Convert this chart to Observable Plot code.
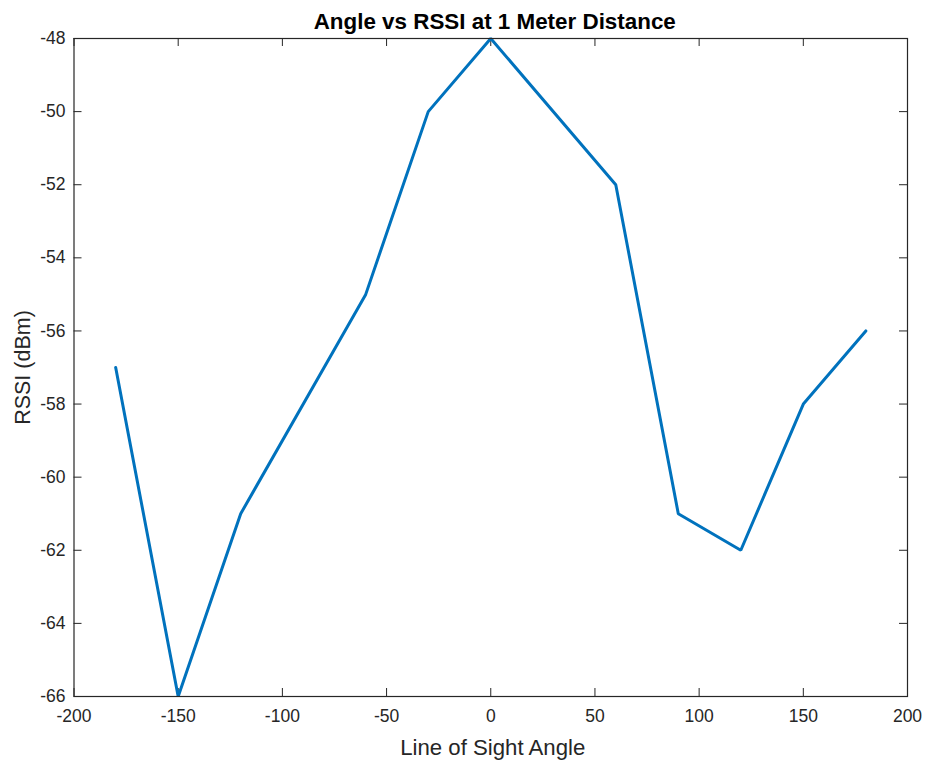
<!DOCTYPE html>
<html>
<head>
<meta charset="utf-8">
<script src="https://cdn.jsdelivr.net/npm/d3@7"></script>
<script src="https://cdn.jsdelivr.net/npm/@observablehq/plot@0.6"></script>
<style>
  html, body { margin: 0; padding: 0; background: #ffffff; }
  #chart svg { display: block; }
</style>
</head>
<body>
<div id="chart"></div>
<script>
// Data
const angles = [-180, -150, -120, -60, -30, 0, 60, 90, 120, 150, 180];
const rssi = [-57, -66, -61, -55, -50, -48, -52, -61, -62, -58, -56];
const xTicks = [-200, -150, -100, -50, 0, 50, 100, 150, 200];
const yTicks = [-66, -64, -62, -60, -58, -56, -54, -52, -50, -48];
const titleText = "Angle vs RSSI at 1 Meter Distance";
const xLabel = "Line of Sight Angle";
const yLabel = "RSSI (dBm)";

const data = angles.map((a, i) => ({angle: a, rssi: rssi[i]}));

const W = 927, H = 763;
const mL = 73.5, mR = 20, mT = 38, mB = 67;
const frameW = W - mL - mR, frameH = H - mT - mB;
const tickLen = 8;
const axisColor = "#262626";
const font = "'Liberation Sans', Arial, Helvetica, sans-serif";
const fmt = d => String(d);

const chart = Plot.plot({
  width: W,
  height: H,
  marginLeft: mL,
  marginRight: mR,
  marginTop: mT,
  marginBottom: mB,
  style: {fontFamily: font, fontSize: "17.5px", color: axisColor, background: "#ffffff"},
  x: {domain: [-200, 200], nice: false},
  y: {domain: [-66, -48], nice: false},
  marks: [
    // inward ticks on all four sides
    Plot.tickX(xTicks, {x: d => d, insetTop: frameH - tickLen, stroke: axisColor, strokeWidth: 1}),
    Plot.tickX(xTicks, {x: d => d, insetBottom: frameH - tickLen, stroke: axisColor, strokeWidth: 1}),
    Plot.tickY(yTicks, {y: d => d, insetRight: frameW - tickLen, stroke: axisColor, strokeWidth: 1}),
    Plot.tickY(yTicks, {y: d => d, insetLeft: frameW - tickLen, stroke: axisColor, strokeWidth: 1}),
    Plot.line(data, {x: "angle", y: "rssi", stroke: "#0072BD", strokeWidth: 3, strokeLinejoin: "miter"}),
    Plot.frame({stroke: axisColor, strokeWidth: 1.2}),
    Plot.axisX({ticks: xTicks, tickSize: 0, tickPadding: 13, tickFormat: fmt, label: null, fill: axisColor}),
    Plot.axisY({ticks: yTicks, tickSize: 0, tickPadding: 8.5, tickFormat: fmt, label: null, fill: axisColor}),
    Plot.text([titleText], {frameAnchor: "top", dy: -10, lineAnchor: "bottom", fontSize: 22.4, fontWeight: "bold", fill: "#000000", dx: 4}),
    Plot.text([xLabel], {frameAnchor: "bottom", dy: 58, lineAnchor: "bottom", fontSize: 22.2, fill: axisColor, dx: 2}),
    Plot.text([yLabel], {frameAnchor: "left", dx: -51, rotate: -90, textAnchor: "middle", lineAnchor: "middle", fontSize: 21.5, fill: axisColor})
  ]
});

document.getElementById("chart").appendChild(chart);
</script>
</body>
</html>
